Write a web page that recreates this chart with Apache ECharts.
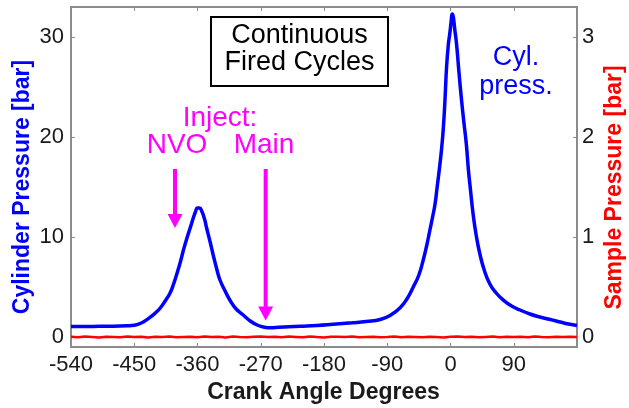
<!DOCTYPE html>
<html>
<head>
<meta charset="utf-8">
<script src="https://cdn.jsdelivr.net/npm/echarts@6/dist/echarts.min.js"></script>
<style>
  html, body { margin: 0; padding: 0; background: #fff; }
  #chart { width: 629px; height: 408px; }
</style>
</head>
<body>
<div id="chart"></div>
<script>
// Crank angle range and tick labels
const angleTicks = [-540, -450, -360, -270, -180, -90, 0, 90, 180];
const cylTicks = [0, 10, 20, 30];
const sampleTicks = [0, 1, 2, 3];

// Cylinder pressure [bar] vs crank angle [deg]
const cylAngle = [
  -540, -520, -500, -480, -460, -450, -440, -432, -425, -420, -413, -406, -399, -394, -389, -384,
  -380, -375, -370, -366, -363, -360, -357, -354, -350, -347, -342, -337, -333, -328, -320, -314,
  -305, -295, -285, -275, -265, -255, -245, -230, -214, -190, -167, -140, -120, -100, -85, -72,
  -62, -53, -45, -38.8, -34, -29.3, -25.5, -22, -19, -16, -13, -10.4, -8, -5.6, -3, -0.9,
  1, 2.4, 4, 6, 8.6, 12, 15.7, 19, 22.5, 25.5, 28, 32, 36.5, 41.8, 48, 56,
  65, 75, 87, 99, 113, 127, 142, 156, 168, 180
];
const cylPressure = [
  1.05, 1.05, 1.07, 1.08, 1.12, 1.17, 1.4, 1.74, 2.1, 2.4, 2.9, 3.6, 4.4, 5.3, 6.4, 7.6,
  8.7, 9.9, 11.0, 11.9, 12.5, 12.9, 12.9, 12.6, 11.8, 10.9, 9.5, 8.0, 6.9, 5.7, 4.5, 3.7,
  2.8, 2.2, 1.6, 1.2, 0.98, 0.92, 0.98, 1.02, 1.07, 1.15, 1.27, 1.42, 1.55, 1.75, 2.2, 2.9,
  3.8, 5.0, 6.2, 7.7, 9.1, 10.7, 12.0, 13.3, 15.0, 16.7, 18.6, 20.7, 23.5, 27.0, 29.3, 30.4,
  31.6, 32.3, 32.0, 30.8, 29.3, 26.5, 23.7, 21.5, 19.3, 16.7, 15.0, 12.4, 10.2, 8.3, 6.7, 5.3,
  4.4, 3.7, 3.1, 2.7, 2.3, 2.0, 1.75, 1.5, 1.3, 1.15
];

// Sample pressure [bar], every 10 deg from -540 to 180
const sampleAngleStep = 10;
const samplePressure = [
  0.002, -0.003, 0.004, 0.000, -0.004, 0.003, 0.001, -0.002, 0.005, -0.001,
  0.002, -0.004, 0.003, 0.000, 0.004, -0.003, 0.001, 0.003, -0.002, 0.005,
  -0.001, 0.002, -0.004, 0.004, 0.000, -0.002, 0.003, 0.006, -0.001, 0.002,
  -0.003, 0.004, 0.001, -0.002, 0.005, 0.000, -0.004, 0.003, 0.002, -0.001,
  0.004, -0.003, 0.001, 0.003, -0.002, 0.000, 0.004, -0.003, 0.002, 0.001,
  -0.002, 0.003, 0.000, -0.004, 0.002, 0.004, -0.001, 0.003, -0.003, 0.001,
  0.004, -0.002, 0.002, 0.000, 0.003, -0.003, 0.005, 0.001, -0.002, 0.003,
  0.000, 0.002, -0.001
];

// Injection markers: [angle, arrow top, arrow tip] in cylinder-pressure units
const injectNVO = [-392, 16.8, 10.9];
const injectMain = [-263, 16.8, 1.65];

const BLUE = '#0000ff';
const RED = '#ff0000';
const MAGENTA = '#ff00ff';
const AXIS_GRAY = '#8c8c8c';
const FONT = '"Liberation Sans", Arial, sans-serif';

const cylData = cylAngle.map((a, i) => [a, cylPressure[i]]);
const sampleData = samplePressure.map((v, i) => [angleTicks[0] + i * sampleAngleStep, v]);

const chart = echarts.init(document.getElementById('chart'), null, { renderer: 'canvas' });

const axisLineStyle = { show: true, lineStyle: { color: AXIS_GRAY, width: 2 } };
const tickStyle = { show: true, inside: true, length: 4, lineStyle: { color: AXIS_GRAY, width: 1 } };
const labelStyle = { color: '#1a1a1a', fontSize: 22, fontFamily: FONT };

chart.setOption({
  animation: false,
  backgroundColor: '#fff',
  grid: { left: 71, right: 52, top: 7, bottom: 61, containLabel: false },
  xAxis: [
    {
      type: 'value', position: 'bottom',
      min: angleTicks[0], max: angleTicks[angleTicks.length - 1], interval: 90,
      axisLine: Object.assign({ onZero: false }, axisLineStyle),
      axisTick: tickStyle,
      splitLine: { show: false },
      axisLabel: Object.assign({ margin: 7, formatter: v => (v === 180 ? '' : String(v)) }, labelStyle)
    },
    {
      type: 'value', position: 'top',
      min: angleTicks[0], max: angleTicks[angleTicks.length - 1], interval: 90,
      axisLine: Object.assign({ onZero: false }, axisLineStyle),
      axisTick: tickStyle,
      splitLine: { show: false },
      axisLabel: { show: false }
    }
  ],
  yAxis: [
    {
      type: 'value', position: 'left', min: -1, max: 33,
      axisLine: Object.assign({ onZero: false }, axisLineStyle),
      axisTick: Object.assign({ customValues: cylTicks }, tickStyle),
      splitLine: { show: false },
      axisLabel: Object.assign({ margin: 7, customValues: cylTicks }, labelStyle)
    },
    {
      type: 'value', position: 'right', min: -0.1, max: 3.3,
      axisLine: Object.assign({ onZero: false }, axisLineStyle),
      axisTick: Object.assign({ customValues: sampleTicks }, tickStyle),
      splitLine: { show: false },
      axisLabel: Object.assign({ margin: 5, customValues: sampleTicks }, labelStyle)
    }
  ],
  series: [
    {
      type: 'line', name: 'Sample pressure', xAxisIndex: 0, yAxisIndex: 1,
      data: sampleData, showSymbol: false, smooth: false,
      lineStyle: { color: RED, width: 2.5 }, z: 2
    },
    {
      type: 'line', name: 'Cylinder pressure', xAxisIndex: 0, yAxisIndex: 0,
      data: cylData, showSymbol: false, smooth: 0.5,
      lineStyle: { color: BLUE, width: 3.5 }, z: 3
    }
  ]
});

// Annotation overlays: arrows anchored to data coordinates, plus text labels
function arrow(marker) {
  const top = chart.convertToPixel({ xAxisIndex: 0, yAxisIndex: 0 }, [marker[0], marker[1]]);
  const tip = chart.convertToPixel({ xAxisIndex: 0, yAxisIndex: 0 }, [marker[0], marker[2]]);
  const headLen = 14, headHalf = 7.5;
  return [
    { type: 'line', z: 10, shape: { x1: top[0], y1: top[1], x2: tip[0], y2: tip[1] - headLen + 1 },
      style: { stroke: MAGENTA, lineWidth: 4 } },
    { type: 'polygon', z: 10, shape: { points: [[tip[0] - headHalf, tip[1] - headLen], [tip[0] + headHalf, tip[1] - headLen], [tip[0], tip[1]]] },
      style: { fill: MAGENTA } }
  ];
}

function label(text, x, y, color, size, weight, rotation) {
  return {
    type: 'text', x: x, y: y, z: 11, rotation: rotation || 0,
    style: { text: text, fill: color, font: (weight || 'normal') + ' ' + size + 'px ' + FONT,
             textAlign: 'center', textVerticalAlign: 'middle' }
  };
}

chart.setOption({
  graphic: [
    { type: 'rect', z: 9, shape: { x: 211, y: 17, width: 177, height: 69 },
      style: { fill: '#fff', stroke: '#000', lineWidth: 2 } },
    label('Continuous', 299.5, 35.5, '#000', 27),
    label('Fired Cycles', 299.5, 63, '#000', 27),
    label('Cyl.', 516, 58, BLUE, 27),
    label('press.', 516, 86.5, BLUE, 27),
    label('Inject:', 220, 118, MAGENTA, 28),
    label('NVO', 177, 145, MAGENTA, 28),
    label('Main', 264, 145, MAGENTA, 28),
    label('Crank Angle Degrees', 323.5, 393, '#1a1a1a', 23, 'bold'),
    label('Cylinder Pressure [bar]', 23, 187, BLUE, 23, 'bold', Math.PI / 2),
    label('Sample Pressure [bar]', 615, 187.5, RED, 23, 'bold', Math.PI / 2)
  ].concat(arrow(injectNVO), arrow(injectMain))
});
</script>
</body>
</html>
